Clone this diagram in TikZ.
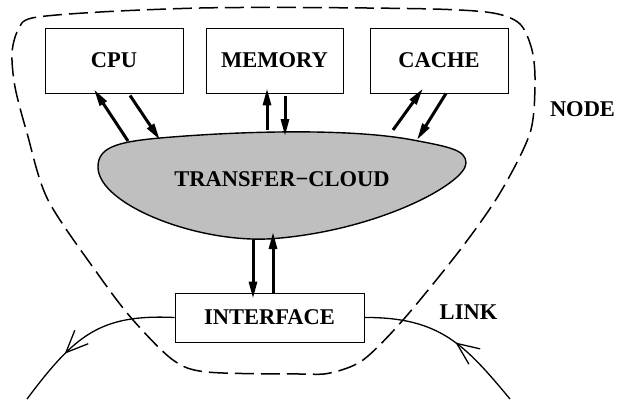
\documentclass[tikz,border=0pt]{standalone}
\usepackage{fontspec}
\setmainfont{Liberation Serif}
\usetikzlibrary{arrows.meta,decorations.markings}
\newcommand\diagfont{\fontsize{22.5}{27}\selectfont\bfseries}
\begin{document}
\begin{tikzpicture}[x=1pt,y=-1pt,
  box/.style={draw, line width=0.9pt, inner sep=0pt, font=\diagfont},
  flow/.style={line width=3pt, -{Triangle[length=17pt,width=8pt]}},
  link/.style={line width=1.3pt},
  barb/.style={decoration={markings, mark=at position #1 with {\arrow[line width=1.3pt]{Straight Barb[length=22pt,width=19pt]}}}, postaction={decorate}},
  lbl/.style={font=\diagfont, inner sep=0pt}
]
\useasboundingbox (0,0) rectangle (618,399);

% dashed outline of the node
\draw[line width=1.5pt, dash pattern=on 19pt off 7pt]
  plot[smooth cycle] coordinates {
    (300,7.5) (433,9) (493,13) (520,24) (532,50) (535,83) (530,133) (500,193)
    (460,250) (403,320) (363,360) (330,373) (300,374) (207,372) (173,360)
    (133,320) (100,277) (48,200) (27,133) (15,87) (12,53) (18,30) (32,18)
    (100,12) (200,8)};

% transfer cloud
\draw[fill=black!25, line width=1.4pt]
  (466,163) .. controls (466,183) and (380,230) .. (275,238.5)
            .. controls (200,244.6) and (98,205) .. (98,167)
            .. controls (98,148) and (115,142) .. (160,138)
            .. controls (240,131) and (350,128) .. (413,140)
            .. controls (450,147) and (466,150) .. cycle;
\node[lbl] (cloud) at (282,179) {TRANSFER−CLOUD};

% components
\node[box, minimum width=138pt, minimum height=65pt] (cpu) at (114,60.5) {CPU};
\node[box, minimum width=137pt, minimum height=65pt] (mem) at (274.5,60.5) {MEMORY};
\node[box, minimum width=138pt, minimum height=65pt] (cache) at (439,60.5) {CACHE};
\node[box, minimum width=189pt, minimum height=49pt] (iface) at (269.5,317.5) {INTERFACE};

% attachment points on the cloud
\coordinate (cA) at (128,141);
\coordinate (cB) at (160,140);
\coordinate (cC) at (267,130);
\coordinate (cD) at (285,136);
\coordinate (cE) at (393,130);
\coordinate (cF) at (417,140);
\coordinate (cG) at (253,239);
\coordinate (cH) at (273,232);

% data flows
\draw[flow] (cA) -- ([xshift=-20pt,yshift=4pt]cpu.south);
\draw[flow] ([xshift=16pt,yshift=-2pt]cpu.south) -- (cB);
\draw[flow] (cC) -- ([xshift=-7.5pt,yshift=5pt]mem.south);
\draw[flow] ([xshift=10.5pt,yshift=-3pt]mem.south) -- (cD);
\draw[flow] (cE) -- ([xshift=-16pt,yshift=5pt]cache.south);
\draw[flow] ([xshift=7pt]cache.south) -- (cF);
\draw[flow] (cG) -- ([xshift=-16.5pt,yshift=-6pt]iface.north);
\draw[flow] ([xshift=3.5pt]iface.north) -- (cH);

% the link
\coordinate (lA) at (27,399);
\coordinate (lB) at (510,399);
\draw[link, barb=0.67] (iface.west) .. controls (100,314) and (75,335) .. (lA);
\draw[link, barb=0.45] (lB) .. controls (465,345) and (440,317) .. (iface.east);

% labels
\node[lbl] (nodelbl) at (582.5,109.5) {NODE};
\node[lbl] (linklbl) at (468.5,312) {LINK};
\end{tikzpicture}
\end{document}
